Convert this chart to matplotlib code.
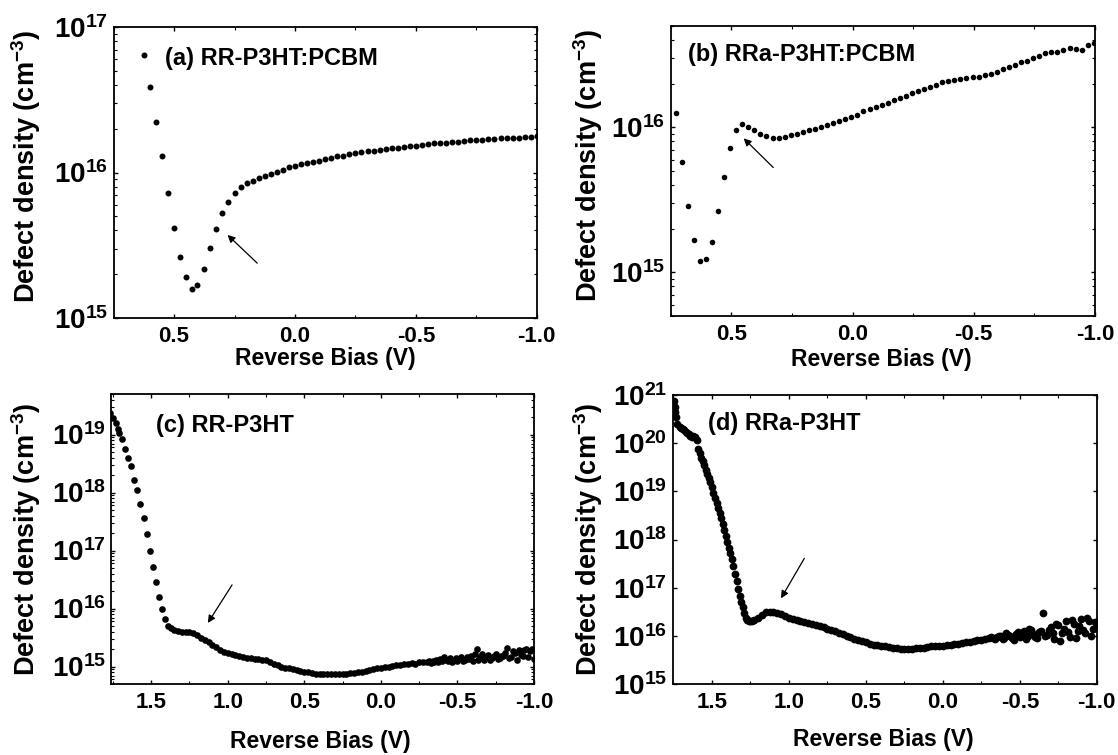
import numpy as np
import matplotlib
matplotlib.use("Agg")
import matplotlib.pyplot as plt
from matplotlib.ticker import FixedLocator, FuncFormatter, LogLocator, MultipleLocator, NullFormatter

plt.rcParams['font.family'] = ['Liberation Sans', 'DejaVu Sans']
plt.rcParams['font.weight'] = 'bold'
plt.rcParams['mathtext.fontset'] = 'custom'
plt.rcParams['mathtext.rm'] = 'Liberation Sans:bold'
plt.rcParams['mathtext.bf'] = 'Liberation Sans:bold'
plt.rcParams['mathtext.it'] = 'Liberation Sans:bold'
plt.rcParams['mathtext.default'] = 'bf'

# ---------------- data (bias in V, log10 of defect density in cm^-3) ----------------
bias_a = [0.625, 0.600, 0.575, 0.550, 0.525, 0.500, 0.475, 0.450, 0.425, 0.405,
          0.375, 0.350, 0.325, 0.300, 0.275, 0.250, 0.225, 0.200, 0.175, 0.150,
          0.125, 0.100, 0.075, 0.050, 0.025, 0.000, -0.025, -0.050, -0.075, -0.100,
          -0.125, -0.150, -0.175, -0.200, -0.225, -0.250, -0.275, -0.300, -0.325, -0.350,
          -0.375, -0.400, -0.425, -0.450, -0.475, -0.500, -0.525, -0.550, -0.575, -0.600,
          -0.625, -0.650, -0.675, -0.700, -0.725, -0.750, -0.775, -0.800, -0.825, -0.850,
          -0.875, -0.900, -0.925, -0.950, -0.975, -1.000]
logN_a = [16.81, 16.59, 16.35, 16.11, 15.86, 15.62, 15.42, 15.28, 15.20, 15.23,
          15.34, 15.48, 15.61, 15.72, 15.80, 15.86, 15.90, 15.925, 15.945, 15.96,
          15.975, 15.99, 16.005, 16.02, 16.035, 16.045, 16.055, 16.065, 16.07, 16.08,
          16.09, 16.10, 16.11, 16.115, 16.125, 16.135, 16.14, 16.145, 16.15, 16.155,
          16.16, 16.165, 16.17, 16.175, 16.18, 16.185, 16.19, 16.195, 16.20, 16.20,
          16.205, 16.21, 16.21, 16.215, 16.22, 16.22, 16.225, 16.23, 16.23, 16.235,
          16.24, 16.24, 16.24, 16.245, 16.245, 16.25]

bias_b = [0.730, 0.705, 0.680, 0.655, 0.630, 0.605, 0.580, 0.555, 0.530, 0.505,
          0.480, 0.455, 0.430, 0.405, 0.380, 0.355, 0.330, 0.305, 0.280, 0.255,
          0.230, 0.205, 0.180, 0.155, 0.130, 0.105, 0.080, 0.055, 0.030, 0.005,
          -0.020, -0.045, -0.070, -0.095, -0.120, -0.145, -0.170, -0.195, -0.220, -0.245,
          -0.270, -0.295, -0.320, -0.345, -0.370, -0.395, -0.420, -0.445, -0.470, -0.495,
          -0.520, -0.545, -0.570, -0.595, -0.620, -0.645, -0.670, -0.695, -0.720, -0.745,
          -0.770, -0.795, -0.820, -0.845, -0.870, -0.895, -0.920, -0.945, -0.970, -0.995]
logN_b = [16.10, 15.76, 15.46, 15.22, 15.08, 15.09, 15.21, 15.42, 15.66, 15.86,
          15.985, 16.02, 16.005, 15.98, 15.955, 15.94, 15.93, 15.93, 15.935, 15.945,
          15.955, 15.965, 15.98, 15.99, 16.005, 16.015, 16.03, 16.045, 16.06, 16.07,
          16.085, 16.11, 16.125, 16.14, 16.155, 16.17, 16.19, 16.20, 16.215, 16.235,
          16.25, 16.265, 16.28, 16.295, 16.31, 16.32, 16.33, 16.335, 16.34, 16.345,
          16.35, 16.36, 16.37, 16.385, 16.40, 16.415, 16.43, 16.45, 16.46, 16.475,
          16.495, 16.51, 16.52, 16.52, 16.535, 16.55, 16.54, 16.535, 16.565, 16.58]

bias_c = [1.768, 1.752, 1.733, 1.720, 1.709, 1.690, 1.670, 1.650, 1.630, 1.615,
          1.590, 1.570, 1.550, 1.530, 1.510, 1.490, 1.470, 1.450, 1.430, 1.410,
          1.390, 1.370, 1.350, 1.325, 1.300, 1.275, 1.250, 1.225, 1.200, 1.175,
          1.150, 1.125, 1.100, 1.075, 1.050, 1.025, 1.000, 0.975, 0.950, 0.925,
          0.900, 0.875, 0.850, 0.825, 0.800, 0.775, 0.750, 0.725, 0.700, 0.675,
          0.650, 0.625, 0.600, 0.575, 0.550, 0.525, 0.500, 0.475, 0.450, 0.425,
          0.400, 0.375, 0.350, 0.325, 0.300, 0.275, 0.250, 0.225, 0.200, 0.175,
          0.150, 0.125, 0.100, 0.075, 0.050, 0.025, 0.000, -0.025, -0.050, -0.075,
          -0.100, -0.125, -0.150, -0.175, -0.200, -0.225, -0.250, -0.275, -0.300, -0.3125,
          -0.325, -0.3375, -0.350, -0.3625, -0.375, -0.3875, -0.400, -0.4125, -0.425, -0.4375,
          -0.450, -0.4625, -0.475, -0.4875, -0.500, -0.5125, -0.525, -0.5375, -0.550, -0.5625,
          -0.575, -0.5875, -0.600, -0.6125, -0.625, -0.6375, -0.650, -0.6625, -0.675, -0.6875,
          -0.700, -0.7125, -0.725, -0.7375, -0.750, -0.7625, -0.775, -0.7875, -0.800, -0.8125,
          -0.825, -0.8375, -0.850, -0.8625, -0.875, -0.8875, -0.900, -0.9125, -0.925, -0.9375,
          -0.950, -0.9625, -0.975, -0.9875, -1.000]
logN_c = [19.37, 19.29, 19.20, 19.10, 19.03, 18.92, 18.75, 18.60, 18.45, 18.22,
          18.04, 17.80, 17.56, 17.29, 16.99, 16.72, 16.45, 16.20, 15.99, 15.82,
          15.70, 15.66, 15.63, 15.61, 15.60, 15.60, 15.59, 15.57, 15.54, 15.50,
          15.46, 15.42, 15.38, 15.33, 15.29, 15.25, 15.23, 15.21, 15.20, 15.18,
          15.17, 15.15, 15.14, 15.13, 15.13, 15.12, 15.11, 15.08, 15.05, 15.03,
          15.00, 14.98, 14.97, 14.95, 14.94, 14.92, 14.91, 14.90, 14.89, 14.88,
          14.87, 14.87, 14.865, 14.865, 14.87, 14.87, 14.87, 14.88, 14.885, 14.89,
          14.90, 14.91, 14.93, 14.94, 14.96, 14.97, 14.98, 14.99, 15.00, 15.01,
          15.02, 15.03, 15.04, 15.05, 15.06, 15.05, 15.07, 15.08, 15.07, 15.09,
          15.06, 15.10, 15.08, 15.12, 15.07, 15.13, 15.10, 15.16, 15.11, 15.09,
          15.14, 15.08, 15.12, 15.15, 15.10, 15.13, 15.17, 15.09, 15.12, 15.16,
          15.13, 15.18, 15.10, 15.22, 15.30, 15.12, 15.17, 15.21, 15.11, 15.16,
          15.20, 15.12, 15.14, 15.19, 15.22, 15.13, 15.15, 15.18, 15.18, 15.24,
          15.32, 15.14, 15.16, 15.26, 15.24, 15.12, 15.28, 15.20, 15.19, 15.29,
          15.30, 15.17, 15.26, 15.31, 15.13]

bias_d = [1.745, 1.742, 1.740, 1.735, 1.725, 1.710, 1.700, 1.690, 1.680, 1.670,
          1.660, 1.650, 1.640, 1.630, 1.620, 1.610, 1.600, 1.590, 1.580, 1.570,
          1.560, 1.550, 1.540, 1.530, 1.520, 1.510, 1.500, 1.490, 1.480, 1.470,
          1.460, 1.450, 1.440, 1.430, 1.420, 1.410, 1.400, 1.390, 1.380, 1.370,
          1.360, 1.350, 1.340, 1.330, 1.320, 1.310, 1.300, 1.290, 1.280, 1.270,
          1.260, 1.250, 1.240, 1.225, 1.200, 1.175, 1.150, 1.125, 1.100, 1.075,
          1.050, 1.025, 1.000, 0.975, 0.950, 0.925, 0.900, 0.875, 0.850, 0.825,
          0.800, 0.775, 0.750, 0.725, 0.700, 0.675, 0.650, 0.625, 0.600, 0.575,
          0.550, 0.525, 0.500, 0.475, 0.450, 0.425, 0.400, 0.375, 0.350, 0.325,
          0.300, 0.275, 0.250, 0.225, 0.200, 0.175, 0.150, 0.125, 0.100, 0.075,
          0.050, 0.025, 0.000, -0.025, -0.050, -0.075, -0.100, -0.125, -0.150, -0.175,
          -0.200, -0.225, -0.250, -0.275, -0.300, -0.325, -0.350, -0.375, -0.400, -0.425,
          -0.450, -0.475, -0.500, -0.525, -0.550, -0.575, -0.600, -0.625, -0.650, -0.675,
          -0.700, -0.725, -0.750, -0.775, -0.800, -0.825, -0.850, -0.875, -0.900, -0.925,
          -0.950, -0.975, -1.000,
          -0.3125, -0.3375, -0.3625, -0.3875, -0.4125, -0.4375, -0.4625, -0.4875, -0.5125, -0.5375,
          -0.5625, -0.5875, -0.6125, -0.6375, -0.6625, -0.6875, -0.7125, -0.7375, -0.7625, -0.7875,
          -0.8125, -0.8375, -0.8625, -0.8875, -0.9125, -0.9375, -0.9625, -0.9875]
logN_d = [20.88, 20.75, 20.64, 20.54, 20.40, 20.33, 20.32, 20.30, 20.27, 20.24,
          20.22, 20.18, 20.15, 20.12, 20.14, 20.13, 20.06, 19.88, 19.80, 19.70,
          19.62, 19.55, 19.45, 19.36, 19.27, 19.19, 19.08, 18.97, 18.87, 18.76,
          18.66, 18.56, 18.45, 18.32, 18.20, 18.07, 17.94, 17.82, 17.71, 17.60,
          17.45, 17.28, 17.13, 16.97, 16.83, 16.70, 16.60, 16.48, 16.38, 16.32,
          16.30, 16.30, 16.31, 16.33, 16.38, 16.44, 16.49, 16.50, 16.50, 16.48,
          16.45, 16.41, 16.37, 16.35, 16.32, 16.30, 16.28, 16.26, 16.24, 16.22,
          16.20, 16.18, 16.15, 16.12, 16.09, 16.06, 16.03, 16.00, 15.97, 15.94,
          15.92, 15.89, 15.87, 15.84, 15.82, 15.80, 15.79, 15.78, 15.77, 15.755,
          15.74, 15.735, 15.73, 15.73, 15.735, 15.74, 15.745, 15.75, 15.77, 15.78,
          15.785, 15.79, 15.79, 15.80, 15.82, 15.83, 15.84, 15.85, 15.87, 15.88,
          15.89, 15.91, 15.92, 15.93, 15.95, 15.96, 15.97, 15.99, 15.96, 16.02,
          15.95, 16.03, 15.97, 16.09, 16.00, 16.12, 15.98, 16.07, 16.47, 16.02,
          16.18, 15.93, 16.22, 16.05, 16.30, 15.98, 16.25, 16.10, 16.35, 16.05,
          16.30, 16.15, 16.25,
          15.97, 15.94, 16.00, 15.93, 16.05, 15.99, 15.91, 16.08, 16.02, 15.94,
          16.15, 16.04, 15.95, 16.10, 16.00, 16.12, 16.05, 16.25, 15.90, 16.15,
          16.08, 16.32, 15.95, 16.20, 16.12, 16.38, 16.00, 16.28]

panel_titles = ['(a) RR-P3HT:PCBM', '(b) RRa-P3HT:PCBM', '(c) RR-P3HT', '(d) RRa-P3HT']
xlims = [(0.75, -1.0), (0.75, -1.0), (1.76, -1.0), (1.756, -1.0)]
ylims = [(1e15, 1e17), (5e14, 5e16), (5e14, 5e19), (1e15, 1e21)]
xticks_list = [[0.5, 0.0, -0.5, -1.0], [0.5, 0.0, -0.5, -1.0],
               [1.5, 1.0, 0.5, 0.0, -0.5, -1.0], [1.5, 1.0, 0.5, 0.0, -0.5, -1.0]]
ydecades = [[15, 16, 17], [15, 16], [15, 16, 17, 18, 19], [15, 16, 17, 18, 19, 20, 21]]
# arrows: (tail_x, tail_log), (head_x, head_log)
arrows = [((0.156, 15.377), (0.279, 15.571)),
          ((0.327, 15.723), (0.449, 15.924)),
          ((0.972, 16.407), (1.130, 15.752)),
          ((0.900, 17.607), (1.051, 16.779))]

series = [(bias_a, logN_a), (bias_b, logN_b), (bias_c, logN_c), (bias_d, logN_d)]

W, H = 1118, 755
fig = plt.figure(figsize=(W / 100, H / 100), dpi=100)
boxes_px = [(113.6, 27, 536.8, 318), (670.7, 26, 1095, 316),
            (111.4, 394, 534, 684), (672.5, 395, 1096.8, 684)]
ms_list = [4.3, 4.0, 4.8, 5.6]
title_pos = [(0.121, 0.893), (0.041, 0.90), (0.105, 0.893), (0.084, 0.903)]
ylab_pos = [(-0.167, 0.52), (-0.156, 0.52), (-0.162, 0.5), (-0.160, 0.5)]
xlab_pos = [(0.50, -0.10), (0.496, -0.11), (0.495, -0.159), (0.497, -0.152)]

for i in range(4):
    l, t, r, b = boxes_px[i]
    ax = fig.add_axes([l / W, (H - b) / H, (r - l) / W, (b - t) / H])
    bx, ly = series[i]
    ax.plot(bx, 10 ** np.array(ly), linestyle='none', marker='o', color='black',
            markersize=ms_list[i], markeredgewidth=0)
    ax.set_yscale('log')
    ax.set_xlim(*xlims[i])
    ax.set_ylim(*ylims[i])
    ax.xaxis.set_major_locator(FixedLocator(xticks_list[i]))
    ax.xaxis.set_minor_locator(MultipleLocator(0.25))
    ax.xaxis.set_major_formatter(FuncFormatter(lambda v, p: '%.1f' % v))
    ax.yaxis.set_major_locator(FixedLocator([10.0 ** d for d in ydecades[i]]))
    ax.yaxis.set_minor_locator(LogLocator(base=10, subs=np.arange(2, 10)))
    ax.yaxis.set_minor_formatter(NullFormatter())
    ax.yaxis.set_major_formatter(FuncFormatter(lambda v, p: r'$\mathbf{10^{%d}}$' % round(np.log10(v))))
    ax.tick_params(which='both', direction='in', top=True, right=True)
    ax.tick_params(which='major', length=3.2, width=1.0)
    ax.tick_params(which='minor', length=2.0, width=0.8)
    ax.tick_params(axis='x', which='major', labelsize=16, pad=5.5)
    ax.tick_params(axis='y', which='major', labelsize=20, pad=4)
    for s in ax.spines.values():
        s.set_linewidth(1.3)
    ax.set_xlabel('Reverse Bias (V)', fontsize=16.5, fontweight='bold')
    ax.set_ylabel(r'Defect density (cm$^{\mathbf{-3}}$)', fontsize=19.5, fontweight='bold')
    ax.xaxis.set_label_coords(*xlab_pos[i])
    ax.yaxis.set_label_coords(*ylab_pos[i])
    ax.text(title_pos[i][0], title_pos[i][1], panel_titles[i], transform=ax.transAxes,
            fontsize=17, fontweight='bold', ha='left', va='center')
    (tx, tly), (hx, hly) = arrows[i]
    ax.annotate('', xy=(hx, 10 ** hly), xytext=(tx, 10 ** tly),
                arrowprops=dict(arrowstyle='-|>', lw=0.9, color='black', mutation_scale=11,
                                shrinkA=0, shrinkB=0))

fig.savefig('out.png', dpi=100)
